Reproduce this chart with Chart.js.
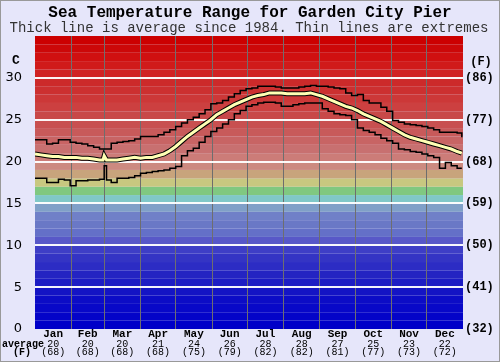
<!DOCTYPE html>
<html>
<head>
<meta charset="utf-8">
<script src="https://cdn.jsdelivr.net/npm/chart.js@4.4.1/dist/chart.umd.min.js"></script>
<style>
  body { margin: 0; background: #e6e6fa; }
  canvas { display: block; }
</style>
</head>
<body>
<canvas id="seaChart" width="500" height="362"></canvas>
<script>
const monthNames = ['Jan', 'Feb', 'Mar', 'Apr', 'May', 'Jun', 'Jul', 'Aug', 'Sep', 'Oct', 'Nov', 'Dec']
const monthAvgC = ['20', '20', '20', '21', '24', '26', '28', '28', '27', '25', '23', '22']
const monthAvgF = ['(68)', '(68)', '(68)', '(68)', '(75)', '(79)', '(82)', '(82)', '(81)', '(77)', '(73)', '(72)']
const monthStartDays = [31, 59, 90, 120, 151, 181, 212, 243, 273, 304, 334]
const monthMidDays = [15.5, 45, 74.5, 105, 135.5, 166, 196.5, 227.5, 258, 288.5, 319, 349.5]
const fahrenheitTicks = ['(32)', '(41)', '(50)', '(59)', '(68)', '(77)', '(86)']

// day of year for each reading
const days = [0, 5, 10, 15, 20, 25, 30, 35, 40, 45, 50, 55, 58, 59, 61,
    65, 70, 75, 80, 85, 90, 95, 100, 105, 110,
    115, 120, 125, 130, 135, 140, 145, 150, 155, 160,
    165, 170, 175, 180, 185, 190, 195, 200, 205, 210,
    215, 220, 225, 230, 235, 240, 245, 250, 255, 260,
    265, 270, 275, 280, 285, 290, 295, 300, 305, 310,
    315, 320, 325, 330, 335, 340, 345, 350, 355, 360, 364]

const maxTemps = [22.6, 22.6, 22.1, 22.2, 22.6, 22.6, 22.3, 22.2, 22.1, 21.9, 21.7, 21.5, 21.5, 21.5, 21.5,
    22.2, 22.3, 22.4, 22.5, 22.7, 23.0, 23.0, 23.0, 23.2, 23.5,
    23.8, 24.2, 24.6, 25.0, 25.3, 25.7, 26.2, 26.9, 27.0, 27.3,
    27.7, 28.1, 28.5, 28.7, 28.8, 29.0, 29.0, 29.0, 28.9, 28.8,
    28.8, 28.8, 28.9, 29.0, 29.1, 29.0, 29.0, 28.9, 28.8, 28.7,
    28.2, 27.9, 28.0, 27.3, 27.0, 27.0, 26.5, 26.0, 24.9, 24.7,
    24.5, 24.4, 24.3, 24.2, 24.0, 23.8, 23.5, 23.5, 23.5, 23.4, 22.9]

const minTemps = [18.0, 18.0, 17.5, 17.5, 17.9, 17.8, 17.1, 17.7, 17.7, 17.8, 17.8, 17.9, 17.9, 19.5, 17.8,
    17.5, 18.0, 18.0, 18.1, 18.3, 18.6, 18.7, 18.8, 18.9, 19.0,
    19.2, 19.4, 20.7, 21.3, 21.6, 22.3, 23.0, 23.6, 24.0, 24.5,
    25.0, 25.7, 26.1, 26.6, 26.8, 27.0, 27.1, 27.1, 27.0, 26.6,
    26.6, 26.8, 26.9, 27.0, 27.0, 27.0, 26.3, 26.0, 25.7, 25.6,
    25.5, 25.0, 24.0, 23.7, 23.5, 23.2, 22.8, 22.5, 22.2, 21.5,
    21.4, 21.2, 21.1, 20.9, 20.7, 20.5, 19.2, 19.9, 19.5, 19.2, 19.2]

const avgTemps = [20.9, 20.8, 20.7, 20.6, 20.6, 20.5, 20.5, 20.5, 20.4, 20.4, 20.3, 20.2, 20.2, 20.7, 20.2,
    20.2, 20.2, 20.3, 20.4, 20.5, 20.4, 20.5, 20.5, 20.7, 20.9,
    21.3, 21.8, 22.4, 23.0, 23.5, 24.0, 24.5, 25.0, 25.6, 26.0,
    26.4, 26.8, 27.1, 27.4, 27.7, 27.9, 28.0, 28.2, 28.2, 28.2,
    28.1, 28.1, 28.1, 28.1, 28.2, 28.0, 27.8, 27.5, 27.2, 26.9,
    26.6, 26.4, 26.1, 25.7, 25.4, 25.1, 24.8, 24.4, 24.0, 23.6,
    23.2, 22.9, 22.7, 22.5, 22.3, 22.1, 21.9, 21.7, 21.5, 21.2, 21.0]

const toPoints = (values) => days.map((d, i) => ({ x: d, y: values[i] }))

// one colour per degree, from 0-1 up to 34-35
const bandColors = [
    '#0000c8', '#0404c8', '#0808c8', '#0c0cc6', '#1414c4',
    '#1c1cc4', '#2424c2', '#2c2cc4', '#3434c4', '#3e3ec6',
    '#5858c8', '#6470c8', '#6a78c6', '#7080c8', '#80a0c8',
    '#80c8c8', '#80c880', '#c8c880', '#c8a47c', '#cc8a80',
    '#cc7c78', '#c87070', '#c86464', '#c85a5a', '#c85050',
    '#c84848', '#cc4040', '#cc3838', '#cc3030', '#cc2a2a',
    '#d02222', '#d01a1a', '#d01010', '#cc0808', '#cc0000'
]

const bandsPlugin = {
    id: 'bands',
    beforeDraw: (chart) => {
        const { ctx, chartArea, scales } = chart
        ctx.save()
        bandColors.forEach((color, i) => {
            const top = scales.y.getPixelForValue(i + 1)
            const bottom = scales.y.getPixelForValue(i)
            ctx.fillStyle = color
            ctx.fillRect(chartArea.left, top, chartArea.right - chartArea.left, bottom - top)
        })
        ctx.restore()
    },
    afterDraw: (chart) => {
        const { ctx } = chart
        ctx.save()
        ctx.fillStyle = '#000'
        ctx.textAlign = 'center'
        ctx.textBaseline = 'middle'
        ctx.font = 'bold 16px "Liberation Mono"'
        ctx.fillText('Sea Temperature Range for Garden City Pier', 250, 13)
        ctx.font = '14px "Liberation Mono"'
        ctx.fillStyle = '#333'
        ctx.fillText('Thick line is average since 1984. Thin lines are extremes', 249, 28)
        ctx.fillStyle = '#000'
        ctx.font = 'bold 13px "Liberation Mono"'
        ctx.fillText('C', 16, 61)
        ctx.font = 'bold 12px "Liberation Mono"'
        ctx.fillText('(F)', 481, 62)
        ctx.font = 'bold 10px "Liberation Mono"'
        ctx.fillText('average', 23, 344)
        ctx.fillText('(F)', 22, 352.5)
        ctx.strokeStyle = '#999'
        ctx.lineWidth = 1
        ctx.strokeRect(0.5, 0.5, 499, 361)
        ctx.restore()
    }
}

const ctx = document.getElementById('seaChart').getContext('2d')
// first dataset is drawn on top
new Chart(ctx, {
    type: 'line',
    data: {
        datasets: [
            {
                label: 'Average',
                data: toPoints(avgTemps),
                borderColor: '#ffffb4',
                borderWidth: 3,
                pointRadius: 0,
                tension: 0,
                fill: false
            },
            {
                label: 'Average outline',
                data: toPoints(avgTemps),
                borderColor: '#000',
                borderWidth: 5,
                pointRadius: 0,
                tension: 0,
                fill: false
            },
            {
                label: 'Max',
                data: toPoints(maxTemps),
                borderColor: '#000',
                borderWidth: 1.5,
                stepped: true,
                pointRadius: 0,
                fill: false
            },
            {
                label: 'Min',
                data: toPoints(minTemps),
                borderColor: '#000',
                borderWidth: 1.5,
                stepped: true,
                pointRadius: 0,
                fill: false
            }
        ]
    },
    options: {
        responsive: false,
        devicePixelRatio: 1,
        animation: false,
        layout: { padding: { top: 36, left: 0, right: 0, bottom: 0 } },
        plugins: {
            legend: { display: false },
            tooltip: { enabled: false }
        },
        scales: {
            x: {
                type: 'linear',
                position: 'bottom',
                min: 0,
                max: 365,
                weight: 0,
                afterBuildTicks: (scale) => { scale.ticks = monthStartDays.map(v => ({ value: v })) },
                afterFit: (scale) => { scale.height = 0 },
                ticks: { display: false },
                grid: { color: '#6e6e6e', lineWidth: 1, drawTicks: false },
                border: { display: false }
            },
            xMonths: {
                type: 'linear',
                position: 'bottom',
                min: 0,
                max: 365,
                weight: 1,
                afterBuildTicks: (scale) => { scale.ticks = monthMidDays.map(v => ({ value: v })) },
                afterFit: (scale) => { scale.height = 10 },
                ticks: {
                    autoSkip: false,
                    maxRotation: 0,
                    padding: 0,
                    color: '#000',
                    font: { family: 'Liberation Mono', size: 11, weight: 'bold', lineHeight: 1 },
                    callback: (value, index) => monthNames[index]
                },
                grid: { display: false, drawTicks: false },
                border: { display: false }
            },
            xAvg: {
                type: 'linear',
                position: 'bottom',
                min: 0,
                max: 365,
                weight: 2,
                afterBuildTicks: (scale) => { scale.ticks = monthMidDays.map(v => ({ value: v })) },
                afterFit: (scale) => { scale.height = 23 },
                ticks: {
                    autoSkip: false,
                    maxRotation: 0,
                    padding: 1,
                    color: '#000',
                    font: { family: 'Liberation Mono', size: 10, lineHeight: 0.85 },
                    callback: (value, index) => [monthAvgC[index], monthAvgF[index]]
                },
                grid: { display: false, drawTicks: false },
                border: { display: false }
            },
            y: {
                position: 'left',
                min: 0,
                max: 35,
                afterFit: (scale) => { scale.width = 35 },
                ticks: {
                    stepSize: 5,
                    padding: 13,
                    color: '#000',
                    font: { family: 'DejaVu Sans', size: 13 },
                    callback: (value) => value === 35 ? '' : value
                },
                grid: {
                    drawTicks: false,
                    lineWidth: 2,
                    color: (c) => (c.tick.value > 0 && c.tick.value < 35) ? 'rgba(255,255,255,0.95)' : 'rgba(0,0,0,0)'
                },
                border: { display: false }
            },
            y2: {
                position: 'right',
                min: 0,
                max: 35,
                afterFit: (scale) => { scale.width = 37 },
                ticks: {
                    stepSize: 5,
                    padding: 2,
                    color: '#000',
                    font: { family: 'Liberation Mono', size: 12, weight: 'bold' },
                    callback: (value) => fahrenheitTicks[value / 5] || ''
                },
                grid: { display: false, drawTicks: false },
                border: { display: false }
            }
        }
    },
    plugins: [bandsPlugin]
})
</script>
</body>
</html>
